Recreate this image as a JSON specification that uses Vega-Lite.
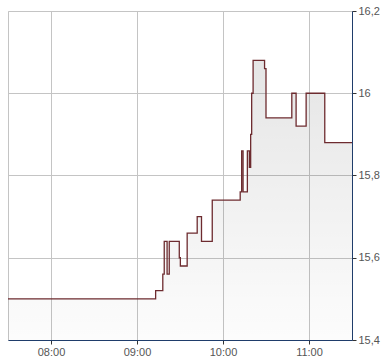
{
  "$schema": "https://vega.github.io/schema/vega-lite/v6.json",
  "width": 344,
  "height": 329,
  "autosize": "none",
  "padding": {"left": 8, "top": 11, "right": 38, "bottom": 24},
  "background": "white",
  "config": {
    "view": {"stroke": "#c4c4c4", "strokeWidth": 1},
    "axis": {"labelFont": "Liberation Sans", "labelFontSize": 11, "labelColor": "#555555", "gridColor": "#c4c4c4", "gridWidth": 1}
  },
  "data": {
    "values": [
      {"t": "2024-01-01T07:30:00", "p": 15.50},
      {"t": "2024-01-01T09:13:00", "p": 15.52},
      {"t": "2024-01-01T09:18:00", "p": 15.56},
      {"t": "2024-01-01T09:19:00", "p": 15.64},
      {"t": "2024-01-01T09:21:00", "p": 15.56},
      {"t": "2024-01-01T09:22:30", "p": 15.64},
      {"t": "2024-01-01T09:29:30", "p": 15.60},
      {"t": "2024-01-01T09:30:15", "p": 15.58},
      {"t": "2024-01-01T09:35:00", "p": 15.66},
      {"t": "2024-01-01T09:42:00", "p": 15.70},
      {"t": "2024-01-01T09:45:00", "p": 15.64},
      {"t": "2024-01-01T09:52:30", "p": 15.74},
      {"t": "2024-01-01T10:12:00", "p": 15.76},
      {"t": "2024-01-01T10:13:00", "p": 15.86},
      {"t": "2024-01-01T10:14:00", "p": 15.76},
      {"t": "2024-01-01T10:17:00", "p": 15.86},
      {"t": "2024-01-01T10:18:24", "p": 15.82},
      {"t": "2024-01-01T10:19:18", "p": 15.90},
      {"t": "2024-01-01T10:20:00", "p": 16.00},
      {"t": "2024-01-01T10:21:00", "p": 16.08},
      {"t": "2024-01-01T10:29:00", "p": 16.06},
      {"t": "2024-01-01T10:30:00", "p": 15.94},
      {"t": "2024-01-01T10:48:00", "p": 16.00},
      {"t": "2024-01-01T10:51:00", "p": 15.92},
      {"t": "2024-01-01T10:58:00", "p": 16.00},
      {"t": "2024-01-01T11:11:00", "p": 15.88},
      {"t": "2024-01-01T11:30:00", "p": 15.88}
    ]
  },
  "encoding": {
    "x": {
      "field": "t", "type": "temporal",
      "scale": {"domain": [{"year": 2024, "month": 1, "date": 1, "hours": 7, "minutes": 30}, {"year": 2024, "month": 1, "date": 1, "hours": 11, "minutes": 30}]},
      "axis": {
        "title": null, "format": "%H:%M", "tickCount": 4,
        "domainColor": "#1f3d6b", "tickColor": "#333333", "tickSize": 4,
        "labelPadding": 2, "grid": true
      }
    },
    "y": {
      "field": "p", "type": "quantitative",
      "scale": {"domain": [15.4, 16.2], "zero": false, "nice": false},
      "axis": {
        "orient": "right", "title": null, "values": [15.4, 15.6, 15.8, 16.0, 16.2],
        "labelExpr": "replace(format(datum.value, '.1~f'), '.', ',')",
        "domainColor": "#1f3d6b", "tickColor": "#333333", "tickSize": 4, "labelPadding": 2,
        "labelBaseline": "middle", "grid": true
      }
    }
  },
  "layer": [
    {
      "mark": {
        "type": "area", "interpolate": "step-after",
        "color": {"gradient": "linear", "x1": 0, "y1": 0, "x2": 0, "y2": 1,
          "stops": [{"offset": 0, "color": "rgba(0,0,0,0.1)"}, {"offset": 1, "color": "rgba(0,0,0,0.01)"}]}
      },
      "encoding": {"y2": {"datum": 15.4}}
    },
    {
      "mark": {"type": "line", "interpolate": "step-after", "color": "#6d2b2f", "strokeWidth": 1.3}
    }
  ]
}
